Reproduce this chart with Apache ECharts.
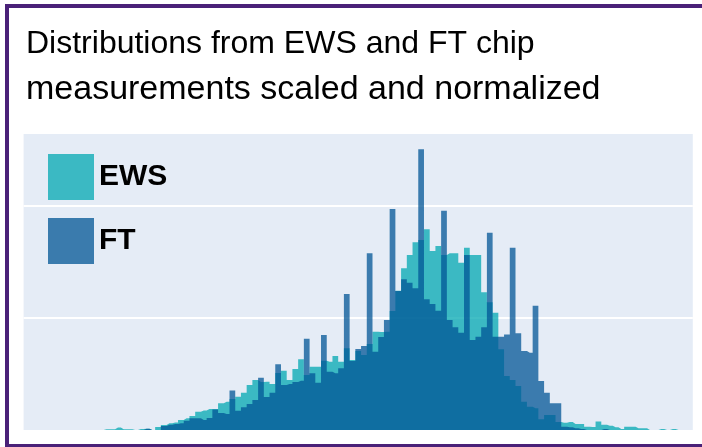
<!DOCTYPE html>
<html>
<head>
<meta charset="utf-8">
<script src="https://cdn.jsdelivr.net/npm/echarts@6/dist/echarts.min.js"></script>
<style>
  html, body { margin: 0; padding: 0; background: #fff; overflow: hidden; }
  #chart { width: 702px; height: 447px; }
  /* purple slide frame around the figure */
  #frame {
    position: absolute; left: 5px; top: 4px; width: 720px; height: 444px;
    box-sizing: border-box; border: 4px solid #4a2178; pointer-events: none;
  }
</style>
</head>
<body>
<div id="chart"></div>
<div id="frame"></div>
<script>
// histogram heights per bin (one gridline step = 1.0)
const ews = [
  0, 0, 0, 0, 0, 0, 0, 0, 0, 0,
  0, 0, 0, 0, 0.006, 0.006, 0.022, 0.006, 0.006, 0,
  0.009, 0.011, 0, 0.027, 0.045, 0.060, 0.067, 0.089, 0.104, 0.125,
  0.163, 0.174, 0.188, 0.188, 0.238, 0.253, 0.277, 0.297, 0.333, 0.402,
  0.446, 0.429, 0.431, 0.411, 0.509, 0.529, 0.446, 0.545, 0.631, 0.491,
  0.565, 0.565, 0.619, 0.610, 0.661, 0.610, 0.729, 0.625, 0.705, 0.670,
  0.768, 0.878, 0.875, 0.878, 1.063, 1.244, 1.444, 1.563, 1.676, 1.696,
  1.792, 1.598, 1.643, 1.563, 1.578, 1.578, 1.494, 1.628, 1.563, 1.563,
  1.229, 1.140, 1.047, 0.721, 0.482, 0.446, 0.393, 0.253, 0.208, 0.194,
  0.096, 0.134, 0.134, 0.071, 0.065, 0.071, 0.054, 0.054, 0.029, 0.027,
  0.076, 0.047, 0.038, 0.024, 0.009, 0.029, 0.029, 0.015, 0.015, 0,
  0, 0.009, 0, 0.009, 0, 0, 0
];

const ft = [
  0, 0, 0, 0, 0, 0, 0, 0, 0, 0,
  0, 0, 0, 0, 0, 0, 0, 0, 0, 0,
  0, 0.011, 0, 0, 0.036, 0.047, 0.054, 0.060, 0.083, 0.104,
  0.104, 0.089, 0.107, 0.183, 0.152, 0.143, 0.353, 0.172, 0.203, 0.232,
  0.268, 0.467, 0.295, 0.333, 0.587, 0.402, 0.411, 0.429, 0.440, 0.815,
  0.506, 0.422, 0.848, 0.521, 0.506, 0.551, 1.214, 0.616, 0.723, 0.750,
  1.578, 0.699, 0.830, 0.982, 1.973, 1.241, 1.346, 1.315, 1.265, 2.506,
  1.167, 1.125, 1.065, 1.958, 0.982, 0.917, 0.869, 1.563, 0.804, 0.833,
  0.917, 1.762, 0.833, 0.833, 0.853, 1.628, 0.863, 0.705, 0.690, 1.110,
  0.438, 0.333, 0.238, 0.238, 0.029, 0.024, 0.015, 0.009, 0, 0,
  0, 0.009, 0, 0, 0, 0, 0, 0, 0, 0,
  0, 0, 0, 0, 0, 0, 0
];

// bin index labels (axis is hidden)
const bins = ews.map((_, i) => i + 1);

const EWS_COLOR = 'rgb(2,168,178)';
const FT_COLOR = 'rgb(1,85,149)';

// histogram drawn as a stepped area, so neighbouring bins have no seams
function histSeries(name, data, color) {
  return {
    name: name,
    type: 'line',
    step: 'middle',
    data: data,
    symbol: 'none',
    silent: true,
    itemStyle: { color: color },
    lineStyle: { width: 0, opacity: 0 },
    areaStyle: { color: color, opacity: 0.75 },
    emphasis: { disabled: true }
  };
}

const chart = echarts.init(document.getElementById('chart'));

const option = {
  animation: false,
  backgroundColor: '#fff',
  title: {
    text: '{a|Distributions from EWS and FT chip}\n{b|measurements scaled and normalized}',
    left: 26,
    top: 22,
    padding: 0,
    textStyle: {
      fontFamily: 'Liberation Sans',
      fontWeight: 'normal',
      color: '#000',
      lineHeight: 45,
      rich: {
        a: { fontFamily: 'Liberation Sans', fontSize: 32, lineHeight: 45, color: '#000' },
        b: { fontFamily: 'Liberation Sans', fontSize: 34, lineHeight: 45, color: '#000' }
      }
    }
  },
  legend: {
    orient: 'vertical',
    left: 48,
    top: 154,
    padding: 0,
    itemWidth: 46,
    itemHeight: 46,
    itemGap: 18,
    icon: 'rect',
    selectedMode: false,
    textStyle: {
      fontFamily: 'Liberation Sans',
      fontWeight: 'bold',
      fontSize: 30,
      color: '#000'
    },
    data: [
      { name: 'EWS', itemStyle: { color: 'rgb(59,185,195)', opacity: 1 } },
      { name: 'FT', itemStyle: { color: 'rgb(58,123,173)', opacity: 1 } }
    ]
  },
  grid: {
    left: 23.6,
    right: 9.2,
    top: 134,
    bottom: 17,
    show: true,
    backgroundColor: '#E5ECF6',
    borderWidth: 0
  },
  xAxis: {
    type: 'category',
    data: bins,
    boundaryGap: true,
    axisLine: { show: false },
    axisTick: { show: false },
    axisLabel: { show: false },
    splitLine: { show: false }
  },
  yAxis: {
    type: 'value',
    min: 0,
    max: 2.643,
    interval: 1,
    axisLine: { show: false },
    axisTick: { show: false },
    axisLabel: { show: false },
    splitLine: {
      show: true,
      showMinLine: false,
      showMaxLine: false,
      lineStyle: { color: '#ffffff', width: 2 }
    }
  },
  series: [
    histSeries('EWS', ews, EWS_COLOR),
    histSeries('FT', ft, FT_COLOR)
  ]
};

chart.setOption(option);
</script>
</body>
</html>
